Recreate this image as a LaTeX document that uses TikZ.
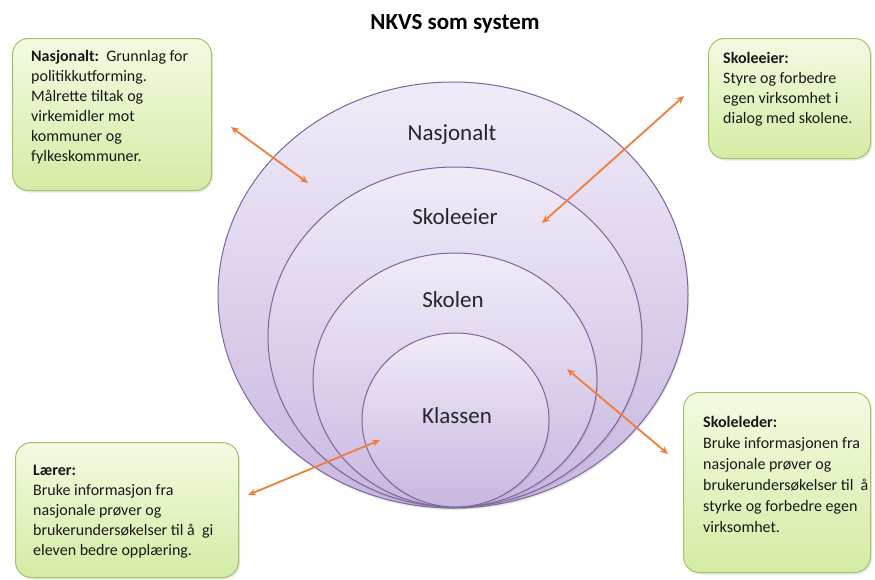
\documentclass[tikz,border=0pt]{standalone}
\usepackage{fontspec}
\setmainfont{Carlito}
\usetikzlibrary{shapes.geometric,arrows.meta,positioning,shadows}

\definecolor{ringtop}{RGB}{240,235,248}
\definecolor{ringbot}{RGB}{200,183,224}
\definecolor{ringline}{RGB}{126,100,158}
\definecolor{boxtop}{RGB}{244,250,226}
\definecolor{boxbot}{RGB}{212,236,164}
\definecolor{boxline}{RGB}{160,196,104}
\definecolor{linkcol}{RGB}{240,126,58}

\tikzset{
  ring/.style={ellipse, draw=ringline, line width=1pt, top color=ringtop,
    bottom color=ringbot, inner sep=0pt,
    drop shadow={opacity=0.18, shadow xshift=1pt, shadow yshift=-2pt}},
  ringlabel/.style={font=\fontsize{23}{28}\selectfont, text=black!85, inner sep=0pt},
  infobox/.style={draw=boxline, line width=1pt, rounded corners=16pt,
    top color=boxtop, bottom color=boxbot, inner sep=0pt, anchor=north west,
    drop shadow={opacity=0.18, shadow xshift=1.5pt, shadow yshift=-2pt}},
  infotext/.style={font=\fontsize{16}{20}\selectfont, align=left, inner sep=0pt,
    text=black!90},
  link/.style={draw=linkcol, line width=1.8pt,
    {Stealth[length=8pt,width=7pt]}-{Stealth[length=8pt,width=7pt]}}
}

\begin{document}
\begin{tikzpicture}[x=1pt,y=-1pt]
  \useasboundingbox (0,0) rectangle (875,579);

  \node (title) at (455,24) {\fontsize{23}{28}\selectfont\bfseries NKVS som system};

  % nested rings
  \node[ring, minimum width=470pt, minimum height=426pt] (nasjring) at (453,295) {};
  \node[ring, minimum width=374pt, minimum height=340pt] (eierring) at (455,337) {};
  \node[ring, minimum width=284pt, minimum height=254pt] (skolering) at (455,380) {};
  \node[ring, minimum width=187pt, minimum height=174pt] (klasering) at (455.5,420) {};

  \node[ringlabel] (nasjlbl) at (452,134) {Nasjonalt};
  \node[ringlabel] (eierlbl) at (455,217) {Skoleeier};
  \node[ringlabel] (skolelbl) at (453,300) {Skolen};
  \node[ringlabel] (klaslbl) at (457,416) {Klassen};

  % info boxes
  \node[infobox, minimum width=199pt, minimum height=152pt] (nasjbox) at (12,38) {};
  \node[infotext, below right=12pt and 19pt of nasjbox.north west] (nasjtxt)
    {\textbf{Nasjonalt:}\ \ Grunnlag for\\ politikkutforming.\\ Målrette tiltak og\\
     virkemidler mot\\ kommuner og\\ fylkeskommuner.};

  \node[infobox, minimum width=162pt, minimum height=120pt] (eierbox) at (708,38) {};
  \node[infotext, below right=14pt and 15pt of eierbox.north west] (eiertxt)
    {\textbf{Skoleeier:}\\ Styre og forbedre\\ egen virksomhet i\\ dialog med skolene.};

  \node[infobox, minimum width=223pt, minimum height=135pt] (laererbox) at (15,442) {};
  \node[infotext, below right=23pt and 18pt of laererbox.north west] (laerertxt)
    {\textbf{Lærer:}\\ Bruke informasjon fra\\ nasjonale prøver og\\
     brukerundersøkelser til å\ \ gi\\ eleven bedre opplæring.};

  \node[infobox, minimum width=187pt, minimum height=180pt] (lederbox) at (683,392) {};
  \node[infotext, font=\fontsize{16}{21}\selectfont,
    below right=24pt and 20pt of lederbox.north west] (ledertxt)
    {\textbf{Skoleleder:}\\ Bruke informasjonen fra\\ nasjonale prøver og\\
     brukerundersøkelser til\ \ å\\ styrke og forbedre egen\\ virksomhet.};

  % links
  \coordinate (nasjout) at (231,127);
  \coordinate (nasjin) at (308,183);
  \coordinate (eierout) at (684,96);
  \coordinate (eierin) at (542,223);
  \coordinate (lederout) at (668,454);
  \coordinate (lederin) at (567,369);
  \coordinate (laererout) at (248,495);
  \coordinate (laererin) at (380,440);

  \draw[link] (nasjout) -- (nasjin);
  \draw[link] (eierout) -- (eierin);
  \draw[link] (lederout) -- (lederin);
  \draw[link] (laererout) -- (laererin);
\end{tikzpicture}
\end{document}
